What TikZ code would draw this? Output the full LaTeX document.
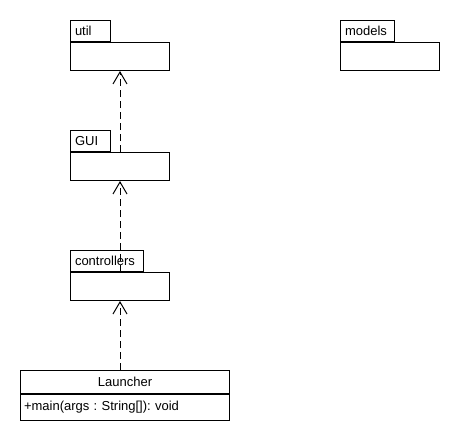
\documentclass[tikz,border=0pt]{standalone}
\usepackage{fontspec}
\setmainfont{Liberation Sans}
\frenchspacing
\usepackage{tikz}
\usetikzlibrary{positioning, arrows.meta}
\tikzset{
    pkgtab/.style={rectangle, draw=black, line width=1pt, fill=white, anchor=north west, minimum height=21pt, inner xsep=4.5pt, inner ysep=0pt, align=left, font=\fontsize{13}{14}\selectfont},
    pkgbody/.style={rectangle, draw=black, line width=1pt, fill=white, anchor=north west, minimum width=99pt, minimum height=28pt, inner sep=0pt},
    classname/.style={rectangle, draw=black, line width=1pt, fill=white, anchor=north west, minimum width=209pt, minimum height=23pt, inner sep=0pt, font=\fontsize{13}{14}\selectfont},
    classops/.style={rectangle, draw=black, line width=1pt, fill=white, anchor=north west, text width=202pt, inner xsep=3.5pt, minimum height=26pt, inner ysep=0pt, align=left, font=\fontsize{13}{14}\selectfont},
    dep/.style={-{Straight Barb[length=12pt, width=14pt, line width=1pt]}, line width=1pt, dash pattern=on 7pt off 4pt}
}
\begin{document}
\begin{tikzpicture}[x=1pt, y=-1pt]
        \useasboundingbox (0,0) rectangle (460,440);

        % packages
        \node[pkgtab, text width=31pt] (utilTab) at (70,20) {util};
        \node[pkgbody] (util) at (utilTab.south west) {};

        \node[pkgtab, text width=31pt] (guiTab) at (70,130) {GUI};
        \node[pkgbody] (gui) at (guiTab.south west) {};

        \node[pkgtab, text width=64pt] (controllersTab) at (70,250) {controllers};
        \node[pkgbody] (controllers) at (controllersTab.south west) {};

        \node[pkgtab, text width=45pt] (modelsTab) at (340,20) {models};
        \node[pkgbody] (models) at (modelsTab.south west) {};

        % class
        \node[classname] (launcher) at (20,370) {Launcher};
        \node[classops] (launcherOps) at (launcher.south west) {+main(args : String[]): void};

        % dependencies
        \draw[dep] (launcher.north -| controllers.south) -- (controllers.south);
        \draw[dep] (controllers.north) -- (gui.south);
        \draw[dep] (gui.north) -- (util.south);
    \end{tikzpicture}
\end{document}
